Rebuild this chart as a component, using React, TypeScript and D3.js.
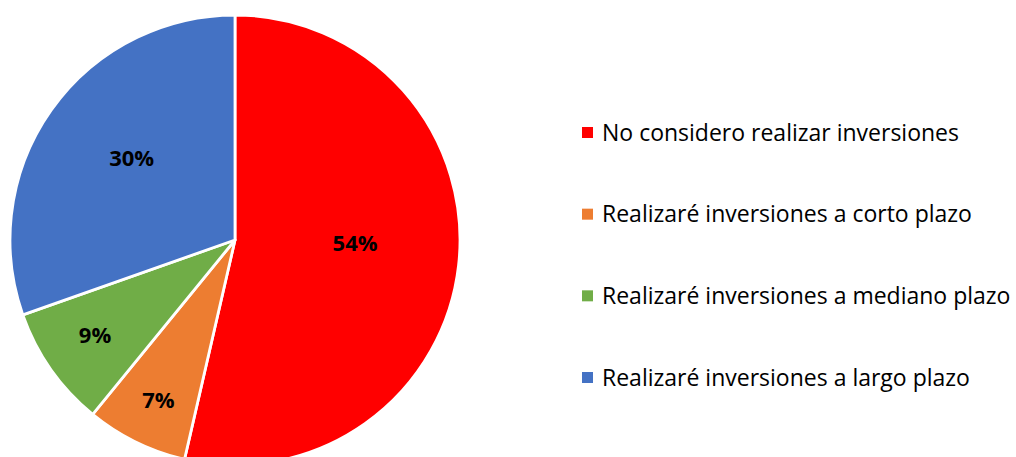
import React from "react";
import * as d3 from "d3";

const categories = [
  "No considero realizar inversiones",
  "Realizaré inversiones a corto plazo",
  "Realizaré inversiones a mediano plazo",
  "Realizaré inversiones a largo plazo",
];
const values = [53.6, 7.3, 8.7, 30.4];
const labels = ["54%", "7%", "9%", "30%"];
const colors = ["#FF0000", "#ED7D31", "#70AD47", "#4472C4"];
// label layout: distance from centre as a fraction of radius, and angular nudge (degrees)
const labelRadiusFactor = [0.534, 0.79, 0.752, 0.585];
const labelAngleNudge = [-4.9, -0.6, 0.9, 3];

const W = 1016;
const H = 457;
const cx = 235;
const cy = 240;
const R = 225;

export default function App() {
  const pie = d3.pie<number>().sort(null).value((d) => d)(values);
  const arc = d3.arc<d3.PieArcDatum<number>>().innerRadius(0).outerRadius(R);
  const legendY = d3.scalePoint<number>().domain(d3.range(categories.length)).range([132.5, 377.5]);
  return (
    <svg width={W} height={H} style={{ position: "absolute", left: 0, top: 0 }}>
      <rect width={W} height={H} fill="#fff" />
      <g transform={`translate(${cx},${cy})`}>
        {pie.map((p, i) => (
          <path key={i} d={arc(p) || ""} fill={colors[i]} stroke="#fff" strokeWidth={2.8} strokeLinejoin="round" />
        ))}
        {pie.map((p, i) => {
          const a = (p.startAngle + p.endAngle) / 2 + (labelAngleNudge[i] * Math.PI) / 180;
          const r = R * labelRadiusFactor[i];
          const x = Math.sin(a) * r;
          const y = -Math.cos(a) * r;
          return (
            <text key={i} x={x} y={y} dy="0.36em" textAnchor="middle"
              fontFamily="'Open Sans', sans-serif" fontWeight="bold" fontSize={22} fill="#000">
              {labels[i]}
            </text>
          );
        })}
      </g>
      {categories.map((c, i) => (
        <g key={i} transform={`translate(582,${legendY(i)})`}>
          <rect x={0} y={-5.5} width={11} height={11} fill={colors[i]} />
          <text x={20} y={0} dy="0.36em" fontFamily="'Open Sans', sans-serif" fontSize={23} fill="#000">
            {c}
          </text>
        </g>
      ))}
    </svg>
  );
}
